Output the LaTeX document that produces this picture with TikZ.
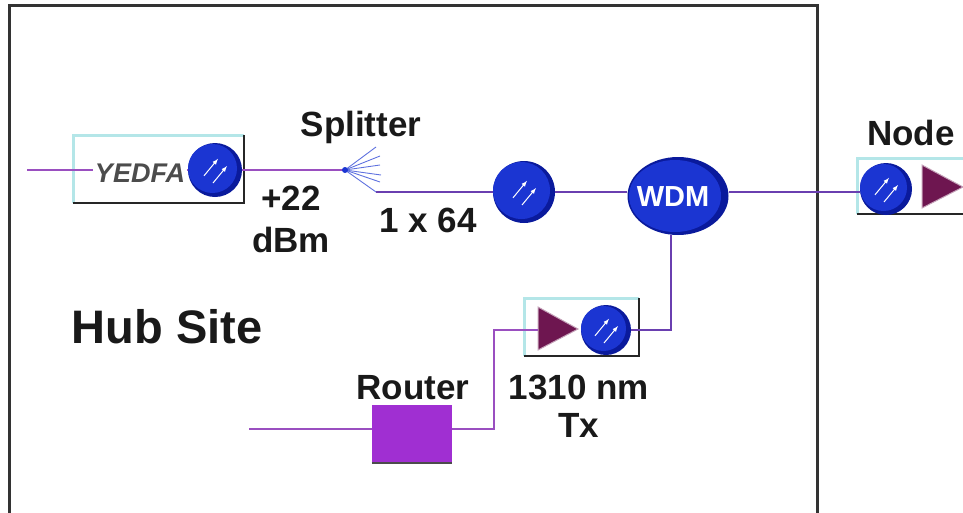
\documentclass[tikz,border=0pt]{standalone}
\usepackage{fontspec}
\setmainfont{Liberation Sans}
\usetikzlibrary{shapes.geometric}
\definecolor{fibre}{HTML}{9A4FC0}
\definecolor{fibredark}{HTML}{6A3FB0}
\definecolor{framegray}{HTML}{333333}
\definecolor{boxcyan}{HTML}{B4E6E8}
\definecolor{diodeblue}{HTML}{1B35D2}
\definecolor{diodedark}{HTML}{0A1A9C}
\definecolor{ampmaroon}{HTML}{6E1650}
\definecolor{routerpurple}{HTML}{A02FD2}
\tikzset{
	label/.style={font=\fontsize{35}{38}\selectfont\bfseries,text=black!90,inner sep=0pt},
	diode/.style={circle,fill=diodedark,inner sep=0pt},
	wdmnode/.style={ellipse,fill=diodedark,inner sep=0pt,minimum width=101pt,minimum height=78pt},
	fibreline/.style={fibre,line width=1.5pt},
	coreline/.style={fibredark,line width=1.3pt},
}
\begin{document}
\begin{tikzpicture}[x=1pt,y=-1pt]
	\useasboundingbox (0,0) rectangle (963,512);
	\path
	(27,170) coordinate (In)
	(345,170) coordinate (Sp)
	(376,192) coordinate (SpOut)
	(249,429) coordinate (RIn)
	(494,429) coordinate (RTurn)
	(494,330) coordinate (TxTurn)
	(538,330) coordinate (TxIn)
	(671,330) coordinate (WTurn)
	;
	% hub frame
	\draw[framegray,line width=3pt] (9,514)--(9,5)--(817,5)--(817,514);
	% boxes with cyan and dark edges
	\foreach \a/\b/\c/\d in {73/135/244/203,857/158/990/214,524/298/639/356} {
		\draw[boxcyan,line width=3pt] (\a,\d)--(\a,\b)--(\c,\b);
		\draw[black!85,line width=2pt] (\a,\d)--(\c,\d)--(\c,\b);
	}
	% amplifiers
	\foreach \a/\b/\c in {538/307/578,922/165/963}
	\fill[ampmaroon,draw=ampmaroon!40!white,line width=1pt] (\a,\b)--(\a,\b+43)--(\c,\b+22)--cycle;
	% diodes
	\node[diode,minimum size=62pt] (Rx1) at (524,192) {};
	\node[diode,minimum size=54pt] (Amp) at (215,170) {};
	\node[diode,minimum size=52pt] (RxN) at (886,189) {};
	\node[diode,minimum size=50pt] (Tx) at (606,330) {};
	\node[wdmnode] (WDM) at (678,196) {};
	\foreach \x/\r in {Rx1/28.5,Amp/24.5,RxN/23.5,Tx/22.5} {
		\fill[diodeblue] ([xshift=-2.5pt,yshift=1.5pt]\x.center) circle (\r);
		\foreach \s in {-4,5}
		\draw[white,line width=1pt,-latex] ([xshift=\s*1pt-7pt,yshift=-\s*.8pt-9pt]\x.center)--++(14,-17);
	}
	\fill[diodeblue] ([xshift=-3pt]WDM.center) ellipse (46 and 36);
	% labels
	\node[font=\fontsize{27}{28}\selectfont\bfseries\itshape,text=black!70,inner sep=2pt] (YEDFA) at (140,173) {YEDFA};
	\node[font=\fontsize{29}{30}\selectfont\bfseries,text=white,inner sep=0pt] (WDMtext) at (673,197) {WDM};
	\node[label] (SplitterText) at (361,127) {Splitter};
	\node[label] (NodeText) at (911,133) {Node};
	\node[label] (Gain) at (291,198) {+22};
	\node[label] (GainUnit) at (291,240) {dBm};
	\node[label] (Ratio) at (428,220) {1 x 64};
	\node[label] (RouterText) at (413,388) {Router};
	\node[label] (TxText) at (579,387) {1310 nm};
	\node[label] (TxText2) at (579,425) {Tx};
	\node[font=\fontsize{47}{50}\selectfont\bfseries,text=black!90,inner sep=0pt] (Hub) at (167,327) {Hub Site};
	% router
	\node[fill=routerpurple,minimum width=80pt,minimum height=58pt,inner sep=0pt] (Router) at (412,434) {};
	\draw[black!70,line width=1.5pt] (Router.south west)--(Router.south east);
	% fibres
	\draw[fibreline] (In)--(In-|YEDFA.west) (In-|YEDFA.east)--(Amp.west) (Amp.east)--(Sp);
	\draw[coreline] (SpOut)--(Rx1.west) (Rx1.east)--(WDM.west|-Rx1.east) (WDM.east|-Rx1.east)--(RxN.west|-Rx1.east);
	\draw[fibreline] (RIn)--(RIn-|Router.west) (RTurn-|Router.east)--(RTurn)--(TxTurn)--(TxIn);
	\draw[coreline] (Tx.east)--(WTurn)--(WTurn|-WDM.south);
	% splitter fan
	\foreach \x/\y in {376/147,380/156,380/165,381/175,380/182,376/192}
	\draw[diodeblue!70!white,line width=.9pt] (Sp)--(\x,\y);
	\fill[diodeblue] (Sp) circle (3);
\end{tikzpicture}
\end{document}
